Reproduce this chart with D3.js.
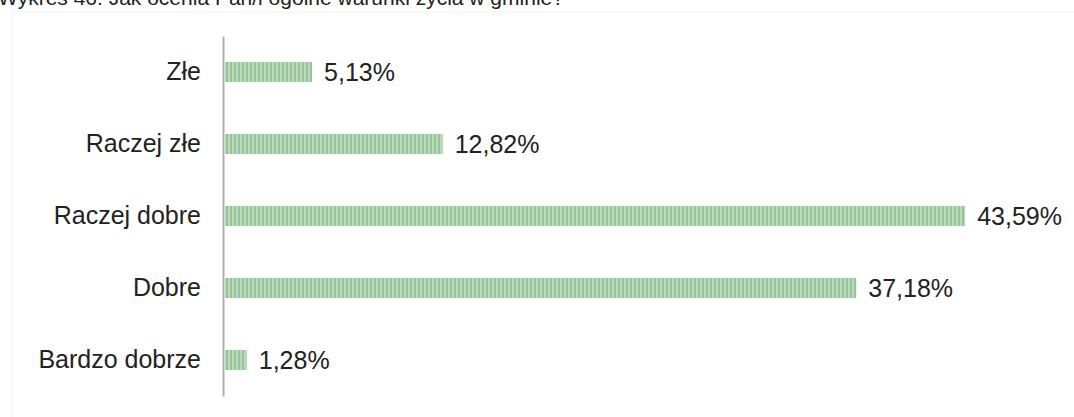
<!DOCTYPE html>
<html>
<head>
<meta charset="utf-8">
<script src="https://cdn.jsdelivr.net/npm/d3@7"></script>
<style>
  body { margin: 0; background: #fff; }
  svg { display: block; font-family: "Liberation Sans", Arial, sans-serif; }
</style>
</head>
<body>
<svg id="chart" width="1074" height="417"></svg>
<script>
// chart data
var categories = ["Złe", "Raczej złe", "Raczej dobre", "Dobre", "Bardzo dobrze"];
var values = [5.13, 12.82, 43.59, 37.18, 1.28];
var valueLabels = ["5,13%", "12,82%", "43,59%", "37,18%", "1,28%"];
var title = "Wykres 46. Jak ocenia Pan/i ogólne warunki życia w gminie?";

var svg = d3.select("#chart");
var axisX = 223;
var fontSize = 25;

// striped fill like the scanned bars
var defs = svg.append("defs");
var pat = defs.append("pattern")
    .attr("id", "stripes")
    .attr("patternUnits", "userSpaceOnUse")
    .attr("width", 4).attr("height", 20);
pat.append("rect").attr("width", 4).attr("height", 20).attr("fill", "#b2dfb4");
pat.append("rect").attr("x", 2.5).attr("width", 1.1).attr("height", 20).attr("fill", "#94a496");

// faint frame of the scanned chart area
svg.append("rect")
    .attr("x", 12).attr("y", 12).attr("width", 1070).attr("height", 420)
    .attr("fill", "none").attr("stroke", "#f2f2f2");

// title, cut off at the top of the scan
svg.append("text")
    .attr("x", -2).attr("y", 5)
    .attr("font-size", 21)
    .attr("fill", "#222")
    .text(title);

var xScale = d3.scaleLinear().domain([0, 50]).range([axisX + 2, axisX + 2 + 849]);
var yScale = d3.scaleBand().domain(categories).range([36, 396])
    .paddingInner(0.72).paddingOuter(0.36);

var data = categories.map(function(c, i){ return {cat: c, val: values[i], lab: valueLabels[i]}; });

svg.selectAll("rect.bar")
    .data(data)
    .enter()
    .append("rect")
    .attr("class", "bar")
    .attr("x", xScale(0))
    .attr("y", d => yScale(d.cat))
    .attr("width", d => xScale(d.val) - xScale(0))
    .attr("height", yScale.bandwidth())
    .attr("fill", "url(#stripes)");

svg.selectAll("text.val")
    .data(data)
    .enter()
    .append("text")
    .attr("class", "val")
    .attr("x", d => xScale(d.val) + 12)
    .attr("y", d => yScale(d.cat) + yScale.bandwidth() / 2)
    .attr("dy", "0.36em")
    .attr("font-size", fontSize)
    .attr("fill", "#222")
    .text(d => d.lab);

// category axis
var yAxis = svg.append("g")
    .attr("transform", `translate(${axisX},0)`)
    .call(d3.axisLeft(yScale).tickSize(0).tickPadding(22));
yAxis.select(".domain").attr("stroke", "#b0b0b0").attr("stroke-width", 2);
yAxis.selectAll("text")
    .attr("font-size", fontSize)
    .attr("font-family", "Liberation Sans, Arial, sans-serif")
    .attr("fill", "#222");
</script>
</body>
</html>
